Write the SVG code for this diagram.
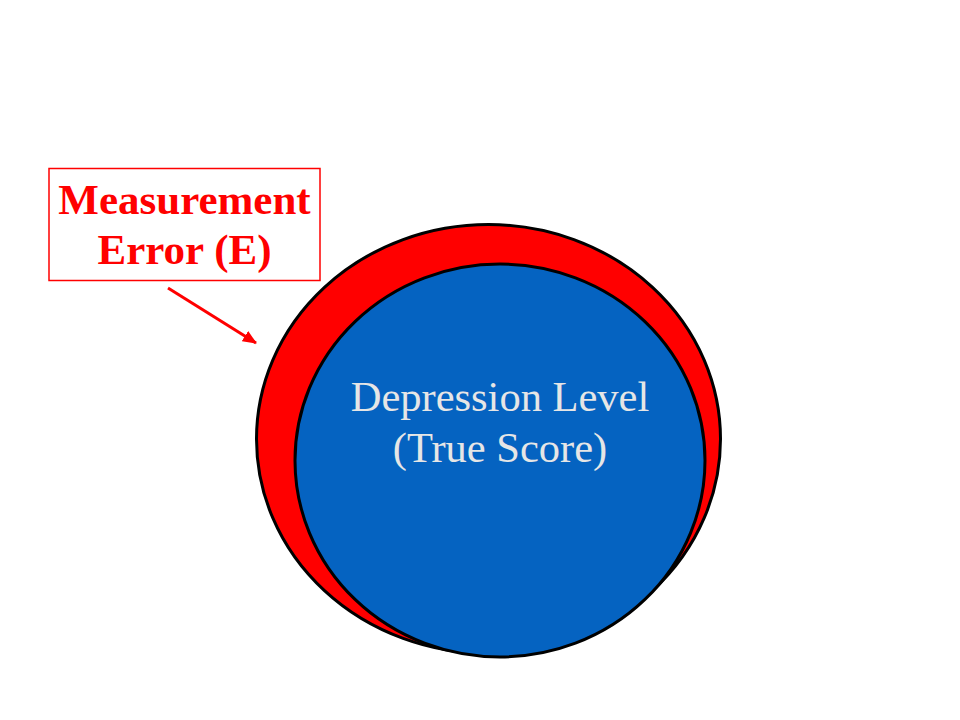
<svg xmlns="http://www.w3.org/2000/svg" width="960" height="720" viewBox="0 0 960 720">
<style>
.lbl{font-family:"Liberation Serif","Times New Roman",serif;font-weight:bold;font-size:43px;fill:#FF0000;text-anchor:middle}
.in{font-family:"Liberation Serif","Times New Roman",serif;font-size:42.5px;fill:#E6E6E6;text-anchor:middle}
</style>
<defs>
<marker id="ah" markerWidth="14" markerHeight="12" refX="13" refY="6" orient="auto" markerUnits="userSpaceOnUse" viewBox="0 0 14 12">
<path d="M0,0 L14,6 L0,12 z" fill="#FF0000"/>
</marker>
</defs>
<rect width="960" height="720" fill="#FFFFFF"/>
<g id="error">
<ellipse cx="488.5" cy="439" rx="232" ry="214.5" fill="#FF0000" stroke="#000" stroke-width="3"/>
</g>
<g id="truescore">
<ellipse cx="500" cy="460.5" rx="205" ry="196.5" fill="#0563C1" stroke="#000" stroke-width="3"/>
<text class="in" x="500" y="411">Depression Level</text>
<text class="in" x="500" y="462">(True Score)</text>
</g>
<g id="label">
<rect x="49" y="168.5" width="271" height="112" fill="#FFFFFF" stroke="#FF0000" stroke-width="1.5"/>
<text class="lbl" x="184.5" y="214">Measurement</text>
<text class="lbl" x="184.5" y="264">Error (E)</text>
</g>
<g id="connectors">
<line x1="168" y1="288" x2="256" y2="343" stroke="#FF0000" stroke-width="3" marker-end="url(#ah)"/>
</g>
</svg>
